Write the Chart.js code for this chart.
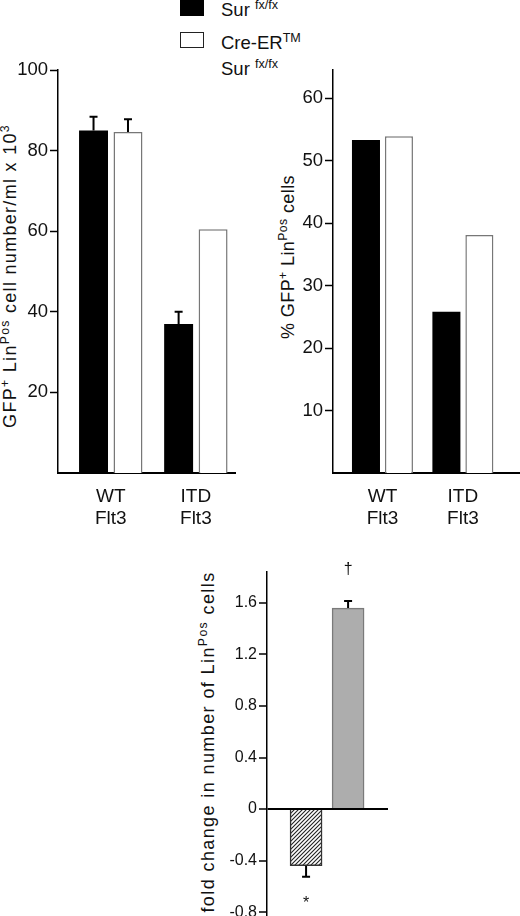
<!DOCTYPE html>
<html lang="en">
<head>
  <meta charset="UTF-8">
  <title>GFP+ LinPos cells</title>
  <script src="https://cdn.jsdelivr.net/npm/chart.js"></script>
  <style>
    body {
      margin: 0;
      background: #fff;
      color: #111;
      font-family: 'Liberation Sans', Arial, sans-serif;
    }
    #page {
      position: relative;
      width: 520px;
      height: 916px;
      overflow: hidden;
    }
    canvas { position: absolute; }
    .swatch {
      position: absolute;
      left: 180px;
      width: 24px;
      height: 16px;
      box-sizing: border-box;
      border: 1.5px solid #222;
    }
    .key {
      position: absolute;
      left: 221px;
      font-size: 18.5px;
      line-height: 20px;
      white-space: nowrap;
    }
    .key sup, .ytitle sup {
      font-size: 0.68em;
      vertical-align: 0.55em;
      line-height: 0;
    }
    .ytitle {
      position: absolute;
      white-space: nowrap;
      font-size: 18px;
      line-height: 22px;
      transform: translate(-50%, -50%) rotate(-90deg);
    }
  </style>
</head>
<body>
  <div id="page">
    <div class="swatch" style="top:0; background:#000; border-color:#000"></div>
    <div class="key" style="top:0">Sur <sup>fx/fx</sup></div>
    <div class="swatch" style="top:32px; background:#fff"></div>
    <div class="key" style="top:33px">Cre-ER<sup>TM</sup></div>
    <div class="key" style="top:59px">Sur <sup>fx/fx</sup></div>

    <div class="ytitle" style="left:10px; top:276px; letter-spacing:1.3px">GFP<sup>+</sup> Lin<sup>Pos</sup> cell number/ml x 10<sup>3</sup></div>
    <div class="ytitle" style="left:288px; top:257px; letter-spacing:0.4px">% GFP<sup>+</sup> Lin<sup>Pos</sup> cells</div>
    <div class="ytitle" style="left:208px; top:742px; letter-spacing:1.4px">fold change in number of  Lin<sup>Pos</sup> cells</div>

    <canvas id="cellNumber" width="240" height="540" style="left:0; top:0"></canvas>
    <canvas id="percent" width="260" height="540" style="left:260px; top:0"></canvas>
    <canvas id="foldChange" width="200" height="396" style="left:200px; top:540px"></canvas>
  </div>

  <script>
    // groups on the x axis of the two top panels
    const GROUPS = [['WT', 'Flt3'], ['ITD', 'Flt3']];

    // GFP+ LinPos cell number/ml x 10^3
    const CELLS_SUR = [85, 37];
    const CELLS_SUR_ERR = [3.4, 3];
    const CELLS_CRE = [84.6, 60.5];
    const CELLS_CRE_ERR = [3.2, 0];
    const CELLS_TICKS = [20, 40, 60, 80, 100];

    // % GFP+ LinPos cells
    const PCT_SUR = [53.3, 25.8];
    const PCT_CRE = [53.9, 38.1];
    const PCT_TICKS = [10, 20, 30, 40, 50, 60];

    // fold change in number of LinPos cells
    const FOLD = [-0.44, 1.56];
    const FOLD_ERR = [0.085, 0.055];
    const FOLD_MARKS = ['*', '\u2020'];
    const FOLD_TICKS = [-0.8, -0.4, 0, 0.4, 0.8, 1.2, 1.6];

    Chart.defaults.font.family = "'Liberation Sans', Arial, sans-serif";
    Chart.defaults.color = '#111';
    Chart.defaults.animation = false;
    Chart.defaults.plugins.legend.display = false;
    Chart.defaults.plugins.tooltip.enabled = false;

    const points = vals => vals.map((v, i) => ({ x: i + 1, y: v }));

    function hatch() {
      const c = document.createElement('canvas');
      c.width = 4; c.height = 4;
      const g = c.getContext('2d');
      g.fillStyle = '#fff';
      g.fillRect(0, 0, 4, 4);
      g.strokeStyle = '#222';
      g.lineWidth = 1.1;
      g.beginPath();
      g.moveTo(0, 4); g.lineTo(4, 0);
      g.moveTo(-1, 1); g.lineTo(1, -1);
      g.moveTo(3, 5); g.lineTo(5, 3);
      g.stroke();
      return g.createPattern(c, 'repeat');
    }

    // one-sided error bars plus significance marks
    const errorBars = {
      id: 'errorBars',
      afterDatasetsDraw(chart) {
        const { ctx } = chart;
        const y = chart.scales.y;
        chart.data.datasets.forEach((ds, i) => {
          const meta = chart.getDatasetMeta(i);
          meta.data.forEach((bar, j) => {
            const v = ds.data[j].y;
            const err = ds.errors ? ds.errors[j] : 0;
            const end = y.getPixelForValue(v + Math.sign(v) * err);
            ctx.save();
            if (err) {
              ctx.strokeStyle = '#000';
              ctx.lineWidth = 2;
              ctx.beginPath();
              ctx.moveTo(bar.x, bar.y);
              ctx.lineTo(bar.x, end);
              ctx.moveTo(bar.x - 4, end);
              ctx.lineTo(bar.x + 4, end);
              ctx.stroke();
            }
            if (ds.marks) {
              ctx.fillStyle = '#111';
              ctx.font = "16px 'Liberation Sans', Arial, sans-serif";
              ctx.textAlign = 'center';
              ctx.textBaseline = 'alphabetic';
              ctx.fillText(ds.marks[j], bar.x, v > 0 ? end - 27 : end + 31);
            }
            ctx.restore();
          });
        });
      }
    };

    function yAxis(min, max, ticks, width, size) {
      return {
        min, max,
        afterFit: s => { s.width = width; },
        afterBuildTicks: s => { s.ticks = ticks.map(v => ({ value: v })); },
        border: { display: true, color: '#000', width: 1.5 },
        grid: { drawOnChartArea: false, color: '#000', tickLength: 8, tickWidth: 1.5 },
        ticks: { font: { size }, color: '#111', padding: 2, callback: v => String(v) }
      };
    }

    function xAxis(min, max) {
      return {
        type: 'linear', min, max, offset: false,
        afterFit: s => { s.height = 67; },
        afterBuildTicks: s => { s.ticks = GROUPS.map((_, i) => ({ value: i + 1 })); },
        border: { display: true, color: '#000', width: 2 },
        grid: { display: false, drawTicks: false },
        ticks: { font: { size: 19 }, color: '#111', padding: 12, callback: (v, i) => GROUPS[i] }
      };
    }

    new Chart(document.getElementById('cellNumber'), {
      type: 'bar',
      data: {
        datasets: [
          { data: points(CELLS_SUR), errors: CELLS_SUR_ERR, backgroundColor: '#000', borderWidth: 0 },
          { data: points(CELLS_CRE), errors: CELLS_CRE_ERR, backgroundColor: '#fff', borderColor: '#777', borderWidth: 1.5 }
        ]
      },
      options: {
        responsive: false,
        layout: { padding: { top: 70, right: 5 } },
        categoryPercentage: 0.81,
        barPercentage: 0.84,
        scales: { x: xAxis(0.38, 2.46), y: yAxis(0, 100, CELLS_TICKS, 58, 18.5) }
      },
      plugins: [errorBars]
    });

    new Chart(document.getElementById('percent'), {
      type: 'bar',
      data: {
        datasets: [
          { data: points(PCT_SUR), backgroundColor: '#000', borderWidth: 0 },
          { data: points(PCT_CRE), backgroundColor: '#fff', borderColor: '#777', borderWidth: 1.5 }
        ]
      },
      options: {
        responsive: false,
        layout: { padding: { top: 70, right: 0 } },
        categoryPercentage: 0.82,
        barPercentage: 0.85,
        scales: { x: xAxis(0.385, 2.71), y: yAxis(0, 64.5, PCT_TICKS, 73, 18.5) }
      },
      plugins: [errorBars]
    });

    const foldY = yAxis(-0.83, 1.84, FOLD_TICKS, 67, 16);
    foldY.grid = {
      drawOnChartArea: true,
      color: c => (c.tick && c.tick.value === 0 ? '#000' : 'rgba(0,0,0,0)'),
      lineWidth: c => (c.tick && c.tick.value === 0 ? 2 : 0),
      tickColor: '#000',
      tickLength: 8,
      tickWidth: 1.5
    };

    new Chart(document.getElementById('foldChange'), {
      type: 'bar',
      data: {
        datasets: [{
          data: points(FOLD),
          errors: FOLD_ERR,
          marks: FOLD_MARKS,
          backgroundColor: [hatch(), '#adadad'],
          borderColor: ['#333', '#7a7a7a'],
          borderWidth: 1.5,
          barThickness: 32
        }]
      },
      options: {
        responsive: false,
        layout: { padding: { top: 32, right: 12, bottom: 20 } },
        scales: {
          x: { type: 'linear', min: 0.07, max: 2.95, offset: false, display: false },
          y: foldY
        }
      },
      plugins: [errorBars]
    });
  </script>
</body>
</html>
